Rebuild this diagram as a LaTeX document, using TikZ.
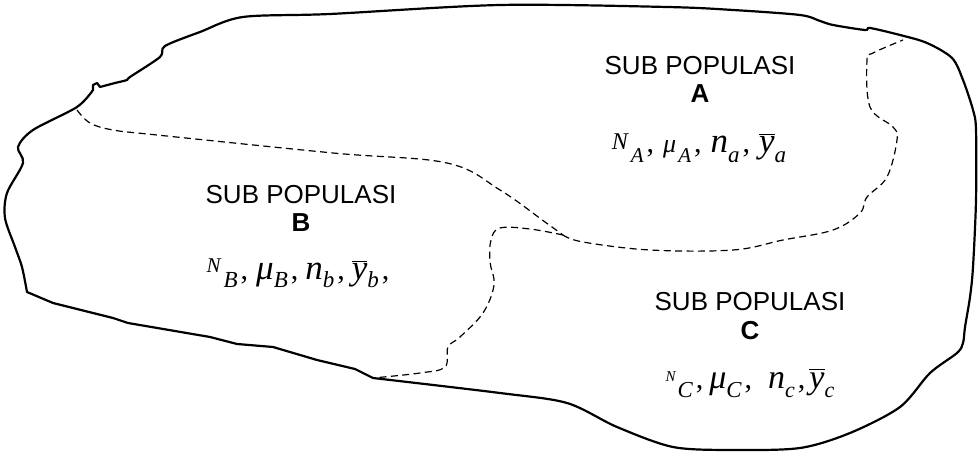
\documentclass[tikz,border=0pt]{standalone}
\usepackage{fontspec}
\setmainfont{Liberation Sans}
\newfontfamily\tms{Liberation Serif}
\newcommand\tx[3]{\raisebox{#1}{\fontsize{#2}{#2}\selectfont\tms\itshape #3}}
\newcommand\cma{\hspace{1.5pt}\tx{0pt}{15}{\upshape,}}
\newcommand\ybar[1]{\ensuremath{\overline{\hbox{\tx{0pt}{#1}{y}}}}}
\begin{document}
\begin{tikzpicture}[x=0.5pt,y=-0.5pt,
  outline/.style={line width=1.1pt, line join=round, line cap=round},
  split/.style={line width=0.6pt, dash pattern=on 3.5pt off 2.2pt},
  title/.style={anchor=base, inner sep=0pt, font=\fontsize{13}{14}\selectfont},
  letter/.style={anchor=base, inner sep=0pt, font=\fontsize{13}{14}\selectfont\bfseries},
  symline/.style={anchor=base, inner sep=0pt}]
\useasboundingbox (0,0) rectangle (978,453);

% outer boundary of the population
\draw[outline] plot[smooth,tension=0.5] coordinates {(27,292) (22,267) (15,247) (5,218) (7,193) (23,163) (18,147) (33,130) (77,107) (93,90)}
  -- (93,85) -- (97,83) -- (100,87)
  -- plot[smooth,tension=0.5] coordinates {(100,87) (115,83) (127,80) (130,77) (160,57) (165,46) (200,32) (243,17) (330,14) (500,5) (667,7) (733,10) (800,15) (820,21) (833,25) (865,30) (870,28) (900,35) (927,43) (952,58) (963,80) (973,110) (976,130) (976,200) (973,267) (970,297) (965,327) (963,343) (957,353) (930,373) (900,407) (850,433) (800,448) (733,450) (673,447) (617,427) (567,403) (500,393) (373,378)}
  -- (355,369) -- (317,360) -- (273,347) -- (237,344) -- (210,337) -- (128,323) -- (113,318) -- (53,303) -- cycle;

% sub-population borders
\coordinate (J) at (563,235);
\draw[split] plot[smooth,tension=0.6] coordinates {(77,110) (90,123) (113,130) (157,135) (333,153) (447,163) (500,190) (545,222) (J)};
\draw[split] plot[smooth,tension=0.6] coordinates {(J) (583,242) (650,250) (733,250) (783,240) (833,230) (860,213) (867,197) (887,177) (897,140) (893,127) (870,107) (867,60) (873,53) (903,40)};
\draw[split] plot[smooth,tension=0.6] coordinates {(J) (530,229) (500,228) (491,240) (490,262) (494,285) (483,313) (460,337) (448,347) (445,367) (420,373) (373,378)};

% labels A
\node[title] (tA) at (700,75) {SUB POPULASI};
\node[letter] (lA) at (700,103) {A};
\node[symline] (sA) at (699,153) {\tx{1.5pt}{12}{N}\hspace{1.5pt}\tx{-5pt}{10.5}{A}\cma\hspace{4.5pt}\tx{0pt}{13}{μ}\hspace{1pt}\tx{-5pt}{10.5}{A}\cma\hspace{4.5pt}\tx{0pt}{17.5}{n}\tx{-5pt}{11.5}{a}\cma\hspace{4.5pt}\ybar{17.5}\tx{-5pt}{11.5}{a}};

% labels B
\node[title] (tB) at (301,204) {SUB POPULASI};
\node[letter] (lB) at (301,232) {B};
\node[symline] (sB) at (298,280) {\tx{3.5pt}{10.5}{N}\hspace{1.5pt}\tx{-4pt}{11.5}{B}\cma\hspace{4pt}\tx{0pt}{17.5}{μ}\tx{-4pt}{11.5}{B}\cma\hspace{3.5pt}\tx{0pt}{17.5}{n}\tx{-4pt}{11.5}{b}\cma\hspace{3.5pt}\ybar{17.5}\tx{-4pt}{11.5}{b}\cma};

% labels C
\node[title] (tC) at (750,311) {SUB POPULASI};
\node[letter] (lC) at (750,340) {C};
\node[symline] (sC) at (750,388) {\tx{3pt}{7.5}{N}\hspace{1pt}\tx{-5pt}{11.4}{C}\cma\hspace{3pt}\tx{0pt}{17}{μ}\tx{-5pt}{11.4}{C}\cma\hspace{8pt}\tx{0pt}{17}{n}\tx{-5pt}{11}{c}\cma\hspace{2pt}\ybar{17}\tx{-5pt}{11}{c}};
\end{tikzpicture}
\end{document}
